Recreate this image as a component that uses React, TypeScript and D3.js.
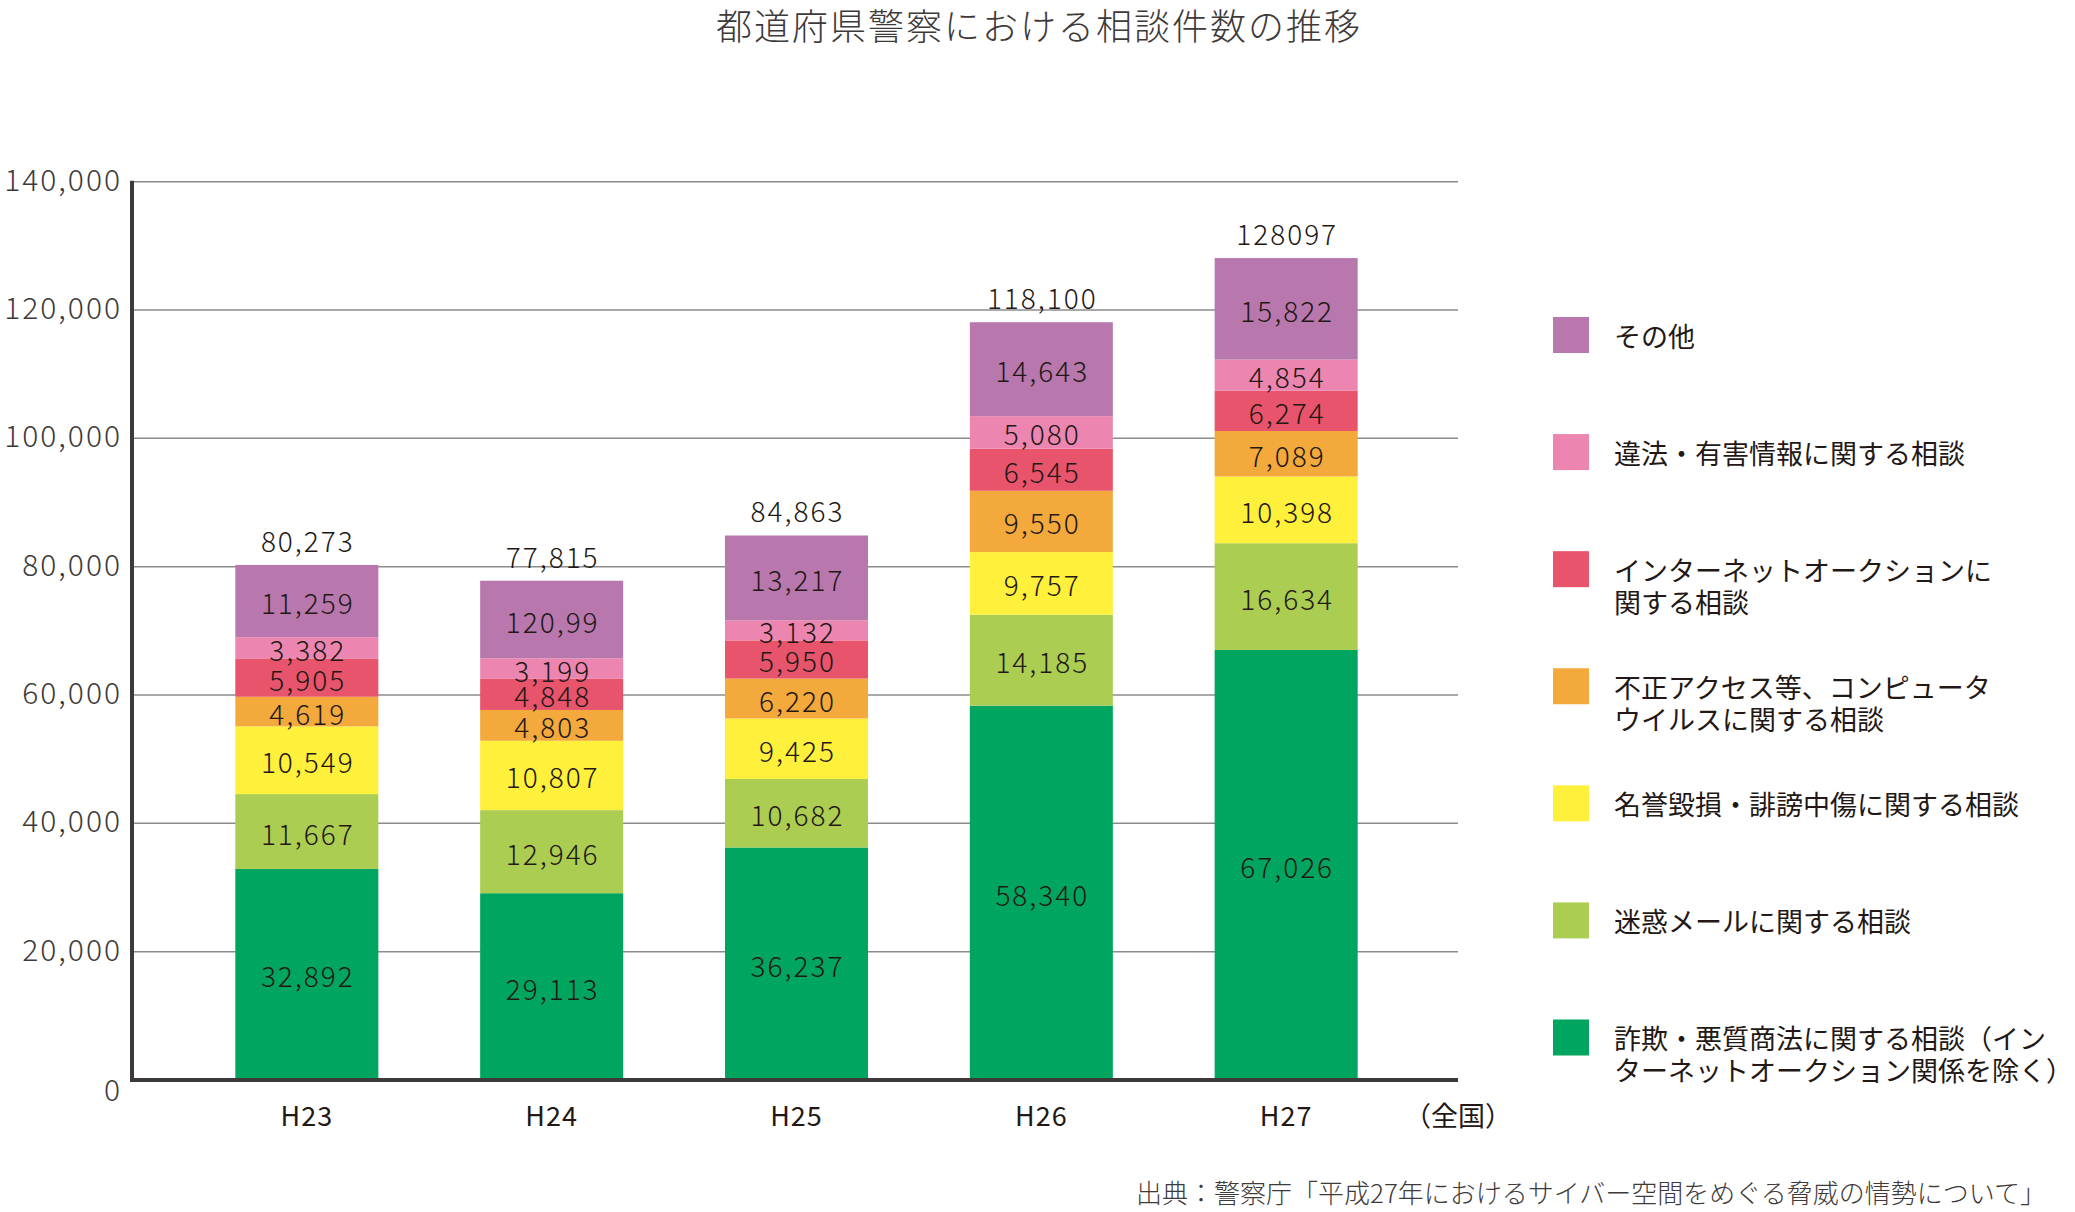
import React from "react";
import * as d3 from "d3";

const title = "都道府県警察における相談件数の推移";
const source = "出典：警察庁「平成27年におけるサイバー空間をめぐる脅威の情勢について」";
const regionNote = "（全国）";

const categories = ["H23", "H24", "H25", "H26", "H27"];

// series bottom -> top
const seriesKeys = ["fraud", "spam", "defame", "access", "auction", "illegal", "other"];
const seriesNames = [
  ["詐欺・悪質商法に関する相談（イン", "ターネットオークション関係を除く）"],
  ["迷惑メールに関する相談"],
  ["名誉毀損・誹謗中傷に関する相談"],
  ["不正アクセス等、コンピュータ", "ウイルスに関する相談"],
  ["インターネットオークションに", "関する相談"],
  ["違法・有害情報に関する相談"],
  ["その他"],
];
const seriesColors = ["#00a65f", "#abce52", "#fff03c", "#f3a93c", "#e8546b", "#ec86b0", "#b878ae"];

const fraud = [32892, 29113, 36237, 58340, 67026];
const spam = [11667, 12946, 10682, 14185, 16634];
const defame = [10549, 10807, 9425, 9757, 10398];
const access = [4619, 4803, 6220, 9550, 7089];
const auction = [5905, 4848, 5950, 6545, 6274];
const illegal = [3382, 3199, 3132, 5080, 4854];
const other = [11259, 12099, 13217, 14643, 15822];
const seriesValues = [fraud, spam, defame, access, auction, illegal, other];

// labels as printed in the original
const fraudLabels = ["32,892", "29,113", "36,237", "58,340", "67,026"];
const spamLabels = ["11,667", "12,946", "10,682", "14,185", "16,634"];
const defameLabels = ["10,549", "10,807", "9,425", "9,757", "10,398"];
const accessLabels = ["4,619", "4,803", "6,220", "9,550", "7,089"];
const auctionLabels = ["5,905", "4,848", "5,950", "6,545", "6,274"];
const illegalLabels = ["3,382", "3,199", "3,132", "5,080", "4,854"];
const otherLabels = ["11,259", "120,99", "13,217", "14,643", "15,822"];
const seriesLabels = [fraudLabels, spamLabels, defameLabels, accessLabels, auctionLabels, illegalLabels, otherLabels];

const totalLabels = ["80,273", "77,815", "84,863", "118,100", "128097"];

const yTicks = [0, 20000, 40000, 60000, 80000, 100000, 120000, 140000];

const W = 2075;
const H = 1212;
const FONT = "'Noto Sans CJK JP', 'Noto Sans', sans-serif";

export default function App() {
  const axisX0 = 132;
  const axisX1 = 1458;
  const y = d3.scaleLinear().domain([0, 140000]).range([1080, 181.7]);
  const x = d3
    .scaleBand<string>()
    .domain(categories)
    .range([132, 1461])
    .paddingInner(0.4158)
    .paddingOuter(0.422);

  const rows = categories.map((c, i) => {
    const r: any = { cat: c };
    seriesKeys.forEach((k, j) => (r[k] = seriesValues[j][i]));
    return r;
  });
  const stacked = d3.stack<any>().keys(seriesKeys)(rows);
  const fmt = d3.format(",");

  const legendY = d3
    .scalePoint<number>()
    .domain(d3.range(seriesKeys.length).reverse())
    .range([335, 1037.5]);

  return (
    <svg
      width={W}
      height={H}
      style={{ position: "absolute", left: 0, top: 0, display: "block", background: "#fff" }}
      fontFamily={FONT}
    >
      <text
        x={1039}
        y={24}
        textAnchor="middle"
        dominantBaseline="central"
        fontSize={36}
        fontWeight={300}
        letterSpacing={2}
        fill="#3e3a39"
      >
        {title}
      </text>

      {/* grid */}
      {yTicks.map((t) => (
        <g key={t}>
          {t > 0 && (
            <line x1={axisX0} x2={axisX1} y1={y(t)} y2={y(t)} stroke="#8c8c8c" strokeWidth={1.5} />
          )}
          <text
            x={122}
            y={y(t) + (t === 0 ? 8 : -4)}
            textAnchor="end"
            dominantBaseline="central"
            fontSize={30}
            fontWeight={300}
            letterSpacing={2}
            fill="#3e3a39"
          >
            {fmt(t)}
          </text>
        </g>
      ))}

      {/* bars */}
      {stacked.map((s, j) => (
        <g key={s.key}>
          {s.map((d, i) => (
            <rect
              key={i}
              x={x(categories[i])}
              y={y(d[1])}
              width={x.bandwidth()}
              height={y(d[0]) - y(d[1])}
              fill={seriesColors[j]}
            />
          ))}
        </g>
      ))}
      {stacked.map((s, j) => (
        <g key={"l" + s.key}>
          {s.map((d, i) => (
            <text
              key={i}
              x={(x(categories[i]) as number) + x.bandwidth() / 2 + 1}
              y={(y(d[0]) + y(d[1])) / 2 + 1}
              textAnchor="middle"
              dominantBaseline="central"
              fontSize={28}
              fontWeight={300}
              letterSpacing={2}
              fill="#231815"
            >
              {seriesLabels[j][i]}
            </text>
          ))}
        </g>
      ))}

      {/* totals */}
      {categories.map((c, i) => {
        const top = stacked[stacked.length - 1][i][1];
        return (
          <text
            key={c}
            x={(x(c) as number) + x.bandwidth() / 2 + 1}
            y={y(top) - 25}
            textAnchor="middle"
            dominantBaseline="central"
            fontSize={28}
            fontWeight={300}
            letterSpacing={2}
            fill="#231815"
          >
            {totalLabels[i]}
          </text>
        );
      })}

      {/* axes */}
      <line x1={axisX0} x2={axisX0} y1={y(140000) - 1} y2={y(0) + 2} stroke="#3e3a39" strokeWidth={4} />
      <line x1={axisX0 - 2} x2={axisX1} y1={y(0)} y2={y(0)} stroke="#3e3a39" strokeWidth={4} />

      {categories.map((c) => (
        <text
          key={c}
          x={(x(c) as number) + x.bandwidth() / 2}
          y={1114}
          textAnchor="middle"
          dominantBaseline="central"
          fontSize={27}
          letterSpacing={1}
          fill="#231815"
        >
          {c}
        </text>
      ))}
      <text x={1458} y={1114} textAnchor="middle" dominantBaseline="central" fontSize={27} fill="#231815">
        {regionNote}
      </text>

      {/* legend */}
      {seriesKeys.map((k, j) => {
        const cy = legendY(j) as number;
        return (
          <g key={k}>
            <rect x={1553} y={cy - 18} width={36} height={36} fill={seriesColors[j]} />
            {seriesNames[j].map((line, li) => (
              <text
                key={li}
                x={1614}
                y={cy + li * 32}
                dominantBaseline="central"
                fontSize={27}
                fill="#231815"
              >
                {line}
              </text>
            ))}
          </g>
        );
      })}

      <text
        x={2046}
        y={1191}
        textAnchor="end"
        dominantBaseline="central"
        fontSize={26}
        fontWeight={300}
        fill="#3e3a39"
      >
        {source}
      </text>
    </svg>
  );
}
